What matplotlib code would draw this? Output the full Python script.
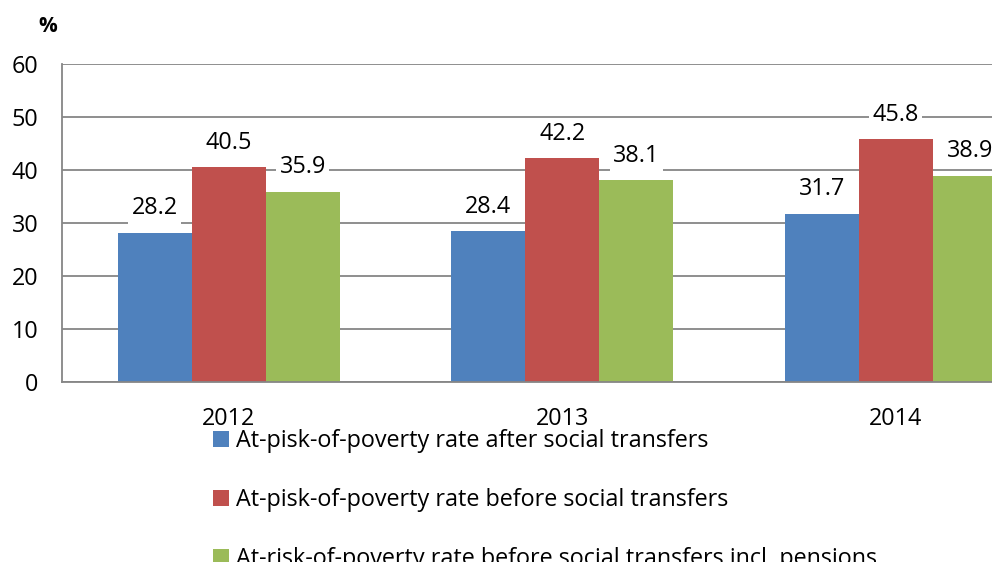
import matplotlib
matplotlib.use("Agg")
import matplotlib.pyplot as plt
import numpy as np

years = ["2012", "2013", "2014"]
after_transfers = [28.2, 28.4, 31.7]
before_transfers = [40.5, 42.2, 45.8]
before_incl_pensions = [35.9, 38.1, 38.9]
series_names = [
    "At-pisk-of-poverty rate after social transfers",
    "At-pisk-of-poverty rate before social transfers",
    "At-risk-of-poverty rate before social transfers incl. pensions",
]
colors = ["#4F81BD", "#C0504D", "#9BBB59"]

plt.rcParams["font.family"] = ["Open Sans", "DejaVu Sans"]
fs = 16.8

fig = plt.figure(figsize=(9.92, 5.62), dpi=100)
# axes runs past the right edge like the cropped original
ax = fig.add_axes([62 / 992, 180 / 562, 1000.5 / 992, 318 / 562])

x = np.arange(len(years))
w = 0.222
series = [after_transfers, before_transfers, before_incl_pensions]
for i, (vals, name, c) in enumerate(zip(series, series_names, colors)):
    bars = ax.bar(x + (i - 1) * w, vals, w, color=c, label=name, zorder=2)
    for b, v in zip(bars, vals):
        ax.annotate(f"{v:.1f}", (b.get_x() + b.get_width() / 2, v),
                    xytext=(0, 9), textcoords="offset points",
                    ha="center", va="bottom", fontsize=fs, zorder=3,
                    bbox=dict(boxstyle="square,pad=0.15", fc="white", ec="none"))

ax.set_xlim(-0.5, 2.5)
ax.set_ylim(0, 60)
ax.set_yticks(range(0, 61, 10))
ax.set_xticks(x)
ax.set_xticklabels(years)
ax.yaxis.grid(True, color="#868686", linewidth=1.3, zorder=0)
ax.set_axisbelow(True)
for s in ["top", "right"]:
    ax.spines[s].set_visible(False)
for s in ["left", "bottom"]:
    ax.spines[s].set_color("#868686")
    ax.spines[s].set_linewidth(1.3)
ax.tick_params(axis="y", length=0, pad=17, labelsize=fs)
ax.tick_params(axis="x", length=0, pad=18, labelsize=fs)

fig.text(48 / 992, 1 - 27 / 562, "%", ha="center", va="center",
         fontsize=15, fontweight="bold")

fig.legend(loc="upper left", bbox_to_anchor=(213 / 992, 1 - 429 / 562),
           frameon=False, fontsize=fs, labelspacing=1.5,
           handlelength=0.7, handleheight=0.7, handletextpad=0.3,
           borderpad=0, borderaxespad=0)

fig.savefig("out.png", dpi=100)
